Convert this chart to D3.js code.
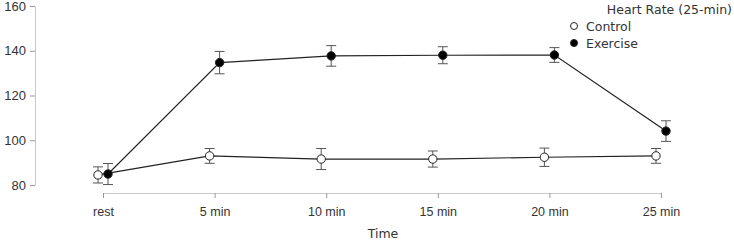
<!DOCTYPE html>
<html>
<head>
<meta charset="utf-8">
<script src="https://cdn.jsdelivr.net/npm/d3@7"></script>
<style>
  html, body { margin: 0; padding: 0; background: #fff; }
  svg { display: block; font-family: "DejaVu Sans", sans-serif; }
</style>
</head>
<body>
<svg id="chart" width="734" height="240"></svg>
<script>
const categories = ["rest", "5 min", "10 min", "15 min", "20 min", "25 min"];
const yTicks = [80, 100, 120, 140, 160];
const controlMean = [84.5, 93.0, 91.6, 91.6, 92.4, 93.0];
const controlErr  = [3.6, 3.3, 4.7, 3.6, 4.1, 3.3];
const exerciseMean = [84.9, 134.7, 137.7, 138.0, 138.1, 104.1];
const exerciseErr  = [4.7, 5.0, 4.6, 3.8, 3.3, 4.6];
const seriesNames = ["Control", "Exercise"];
const chartTitle = "Heart Rate (25-min)";
const xTitle = "Time";

const svg = d3.select("#chart");
const x = d3.scalePoint().domain(categories).range([103, 661]).padding(0);
const y = d3.scaleLinear().domain([80, 160]).range([185, 6]);

const axisColor = "#c8c8c8";
const textColor = "#333";

// Y axis
const yAxis = svg.append("g").attr("transform", "translate(35,0)")
  .call(d3.axisLeft(y).tickValues(yTicks).tickSize(5).tickSizeOuter(0).tickPadding(4));
yAxis.select(".domain").attr("stroke", axisColor);
yAxis.selectAll(".tick line").attr("stroke", "#999");
yAxis.selectAll("text").attr("fill", textColor).style("font-size", "13px");

// X axis
const xAxis = svg.append("g").attr("transform", "translate(0,193)")
  .call(d3.axisBottom(x).tickSize(5).tickSizeOuter(0).tickPadding(9));
xAxis.select(".domain").attr("stroke", axisColor);
xAxis.selectAll(".tick line").attr("stroke", "#999");
xAxis.selectAll("text").attr("fill", textColor).style("font-size", "12.5px");

svg.append("text").attr("x", 383).attr("y", 238).attr("text-anchor", "middle")
  .attr("fill", textColor).style("font-size", "12.5px").text(xTitle);

const series = [
  { name: seriesNames[0], mean: controlMean, err: controlErr, fill: "#fff", dx: -5 },
  { name: seriesNames[1], mean: exerciseMean, err: exerciseErr, fill: "#000", dx: 5 }
];

const line = d3.line().x(d => d.x).y(d => d.y);

series.forEach(s => {
  const pts = categories.map((c, i) => ({
    x: x(c) + s.dx, y: y(s.mean[i]),
    top: y(s.mean[i] + s.err[i]), bot: y(s.mean[i] - s.err[i])
  }));
  const g = svg.append("g");
  g.append("path").datum(pts).attr("d", line)
    .attr("fill", "none").attr("stroke", "#222").attr("stroke-width", 1.2);
  const eb = g.selectAll(".eb").data(pts).enter().append("g").attr("stroke", "#555").attr("stroke-width", 1);
  eb.append("line").attr("x1", d => d.x).attr("x2", d => d.x).attr("y1", d => d.top).attr("y2", d => d.bot);
  eb.append("line").attr("x1", d => d.x - 5).attr("x2", d => d.x + 5).attr("y1", d => d.top).attr("y2", d => d.top);
  eb.append("line").attr("x1", d => d.x - 5).attr("x2", d => d.x + 5).attr("y1", d => d.bot).attr("y2", d => d.bot);
  g.selectAll("circle").data(pts).enter().append("circle")
    .attr("cx", d => d.x).attr("cy", d => d.y).attr("r", 4.2)
    .attr("fill", s.fill).attr("stroke", "#222").attr("stroke-width", 1);
});

// Title & legend
svg.append("text").attr("x", 732).attr("y", 14).attr("text-anchor", "end")
  .attr("fill", textColor).style("font-size", "12.5px").text(chartTitle);

series.forEach((s, i) => {
  const ly = 26 + i * 17;
  svg.append("circle").attr("cx", 574).attr("cy", ly).attr("r", 3.5)
    .attr("fill", s.fill).attr("stroke", "#222").attr("stroke-width", 1);
  svg.append("text").attr("x", 586).attr("y", ly + 4.5)
    .attr("fill", textColor).style("font-size", "12.5px").text(s.name);
});
</script>
</body>
</html>
